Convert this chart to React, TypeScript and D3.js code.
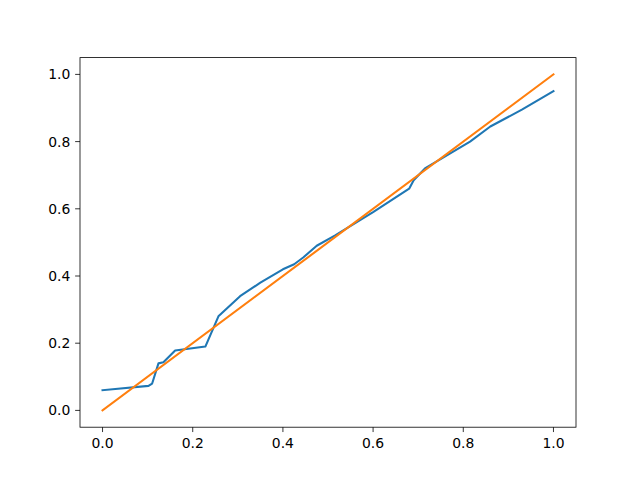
import React from "react";
import * as d3 from "d3";

const blueX = [0.0, 0.102, 0.11, 0.124, 0.135, 0.161, 0.228, 0.257, 0.305, 0.35, 0.4, 0.425, 0.445, 0.475, 0.515, 0.6, 0.68, 0.69, 0.715, 0.815, 0.86, 0.93, 1.0];
const blueY = [0.06, 0.073, 0.08, 0.14, 0.143, 0.178, 0.19, 0.28, 0.34, 0.38, 0.42, 0.435, 0.455, 0.49, 0.52, 0.59, 0.66, 0.685, 0.72, 0.80, 0.845, 0.895, 0.95];
const orangeX = [0.0, 1.0];
const orangeY = [0.0, 1.0];
const xTicks = [0.0, 0.2, 0.4, 0.6, 0.8, 1.0];
const yTicks = [0.0, 0.2, 0.4, 0.6, 0.8, 1.0];

const W = 640, H = 480;
const L = 80, R = 576, T = 57.6, B = 427.2;

export default function App() {
  const x = d3.scaleLinear().domain([-0.05, 1.05]).range([L, R]);
  const y = d3.scaleLinear().domain([-0.05, 1.05]).range([B, T]);
  const line = d3.line<[number, number]>().x(d => x(d[0])).y(d => y(d[1]));
  const blue = blueX.map((v, i) => [v, blueY[i]] as [number, number]);
  const orange = orangeX.map((v, i) => [v, orangeY[i]] as [number, number]);
  const font = "DejaVu Sans, sans-serif";
  return (
    <svg width={W} height={H} style={{ position: "absolute", left: 0, top: 0, background: "#fff" }}>
      <rect x={0} y={0} width={W} height={H} fill="#fff" />
      <path d={line(blue) || ""} fill="none" stroke="#1f77b4" strokeWidth={2.08} strokeLinejoin="round" strokeLinecap="square" />
      <path d={line(orange) || ""} fill="none" stroke="#ff7f0e" strokeWidth={2.08} strokeLinecap="square" />
      <rect x={L} y={T} width={R - L} height={B - T} fill="none" stroke="#000" strokeWidth={0.8} />
      {xTicks.map(t => (
        <g key={"x" + t}>
          <line x1={x(t)} x2={x(t)} y1={B} y2={B + 4.86} stroke="#000" strokeWidth={0.8} />
          <text x={x(t)} y={B + 9.7 + 11} textAnchor="middle" fontFamily={font} fontSize={13.9} fill="#000">{t.toFixed(1)}</text>
        </g>
      ))}
      {yTicks.map(t => (
        <g key={"y" + t}>
          <line x1={L - 4.86} x2={L} y1={y(t)} y2={y(t)} stroke="#000" strokeWidth={0.8} />
          <text x={L - 9.7} y={y(t)} dy="0.36em" textAnchor="end" fontFamily={font} fontSize={13.9} fill="#000">{t.toFixed(1)}</text>
        </g>
      ))}
    </svg>
  );
}
